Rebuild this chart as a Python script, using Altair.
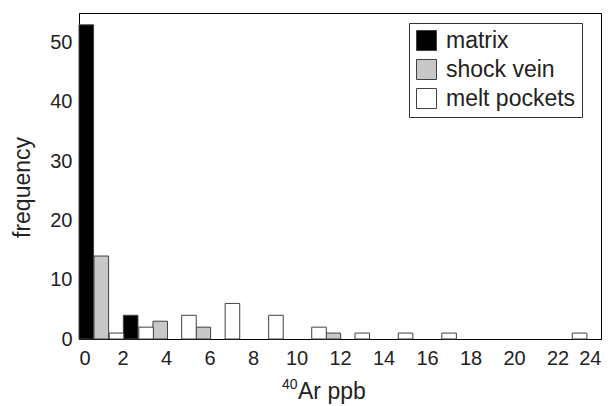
import altair as alt
import pandas as pd

# bar left edges (Ar ppb) and frequencies
matrix_x = [0.0, 2.04]
matrix_n = [53, 4]
shock_x = [0.69, 3.4, 5.38, 11.36]
shock_n = [14, 3, 2, 1]
melt_x = [1.39, 2.75, 4.72, 6.72, 8.72, 10.7, 12.69, 14.68, 16.68, 22.68]
melt_n = [1, 2, 4, 6, 4, 2, 1, 1, 1, 1]
bar_w = 0.67

series = ["matrix", "shock vein", "melt pockets"]
fills = ["black", "#c8c8c8", "white"]

x_title_sup = "40"
x_title_main = "Ar ppb"

rows = []
for name, xs, ns in [("matrix", matrix_x, matrix_n),
                     ("shock vein", shock_x, shock_n),
                     ("melt pockets", melt_x, melt_n)]:
    for x, n in zip(xs, ns):
        rows.append({"x": x, "x2": x + bar_w, "n": n, "type": name})
df = pd.DataFrame(rows)

FONT = "Liberation Sans"
TXT = "#222"

bars = alt.Chart(df).mark_bar(stroke="#404040", strokeWidth=1).encode(
    x=alt.X("x:Q",
            scale=alt.Scale(domain=[0, 24], nice=False, zero=False),
            axis=alt.Axis(values=list(range(0, 25, 2)), title=None,
                          grid=False, ticks=False, labelPadding=9,
                          labelFontSize=20, domainColor="black",
                          labelColor=TXT, labelFont=FONT)),
    x2="x2:Q",
    y=alt.Y("n:Q",
            scale=alt.Scale(domain=[0, 55], nice=False),
            axis=alt.Axis(values=list(range(0, 51, 10)), title="frequency",
                          grid=False, ticks=False, labelPadding=7,
                          labelFontSize=20, titleFontSize=23, titleFontWeight="normal",
                          titleX=-57, titleY=174, titleAngle=-90,
                          titleBaseline="middle", titleAlign="center",
                          domainColor="black", labelColor=TXT, titleColor=TXT,
                          labelFont=FONT, titleFont=FONT)),
    y2=alt.datum(0),
    fill=alt.Fill("type:N",
                  scale=alt.Scale(domain=series, range=fills),
                  legend=alt.Legend(title=None, orient="none", legendX=330, legendY=10,
                                    symbolType="square", symbolSize=400,
                                    symbolStrokeColor="#404040", symbolStrokeWidth=1,
                                    labelFontSize=23, labelFont=FONT, labelColor=TXT,
                                    labelOffset=8, rowPadding=4, padding=6,
                                    strokeColor="#333", fillColor="white",
                                    symbolOpacity=1)),
)

sup = alt.Chart(pd.DataFrame({"t": [x_title_sup]})).mark_text(
    align="left", baseline="alphabetic", fontSize=14, font=FONT, color=TXT
).encode(text="t:N", x=alt.value(203), y=alt.value(376))

main = alt.Chart(pd.DataFrame({"t": [x_title_main]})).mark_text(
    align="left", baseline="alphabetic", fontSize=23, font=FONT, color=TXT
).encode(text="t:N", x=alt.value(219), y=alt.value(386))

chart = alt.layer(bars, sup, main).properties(
    width=522, height=326,
    autosize=alt.AutoSizeParams(type="none"),
    padding={"left": 71, "top": 5, "right": 6, "bottom": 66},
).configure_view(stroke="black", strokeWidth=1)

chart.save("out.html", embed_options={"renderer": "svg", "actions": False})
